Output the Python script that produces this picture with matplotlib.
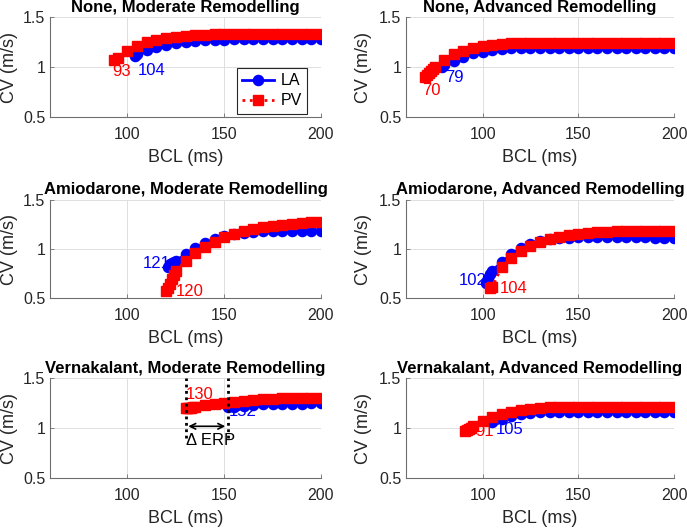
import matplotlib
matplotlib.use("Agg")
import matplotlib.pyplot as plt

plt.rcParams['font.family'] = ['Liberation Sans', 'DejaVu Sans']

# --- data (BCL in ms, CV in m/s) ---
none_mod_la_bcl = [104, 105, 110, 115, 120, 125, 130, 135, 140, 145, 150, 155, 160, 165, 170, 175, 180, 185, 190, 195, 200]
none_mod_la_cv = [1.11, 1.13, 1.17, 1.20, 1.22, 1.24, 1.25, 1.26, 1.27, 1.27, 1.275, 1.28, 1.28, 1.28, 1.28, 1.28, 1.28, 1.28, 1.28, 1.28, 1.28]
none_mod_pv_bcl = [93, 95, 100, 105, 110, 115, 120, 125, 130, 135, 140, 145, 150, 155, 160, 165, 170, 175, 180, 185, 190, 195, 200]
none_mod_pv_cv = [1.07, 1.09, 1.16, 1.21, 1.25, 1.27, 1.29, 1.305, 1.315, 1.32, 1.325, 1.33, 1.33, 1.33, 1.33, 1.33, 1.33, 1.33, 1.33, 1.33, 1.33, 1.33, 1.33]

none_adv_la_bcl = [79, 80, 85, 90, 95, 100, 105, 110, 115, 120, 125, 130, 135, 140, 145, 150, 155, 160, 165, 170, 175, 180, 185, 190, 195, 200]
none_adv_la_cv = [1.0, 1.02, 1.06, 1.10, 1.14, 1.157, 1.173, 1.185, 1.19, 1.195, 1.195, 1.195, 1.195, 1.195, 1.195, 1.195, 1.195, 1.195, 1.195, 1.195, 1.195, 1.195, 1.195, 1.195, 1.195, 1.195]
none_adv_pv_bcl = [70, 71, 72, 73, 74, 75, 80, 85, 90, 95, 100, 105, 110, 115, 120, 125, 130, 135, 140, 145, 150, 155, 160, 165, 170, 175, 180, 185, 190, 195, 200]
none_adv_pv_cv = [0.90, 0.92, 0.94, 0.96, 0.98, 1.0, 1.07, 1.13, 1.165, 1.19, 1.21, 1.225, 1.235, 1.24, 1.24, 1.24, 1.24, 1.24, 1.24, 1.24, 1.24, 1.24, 1.24, 1.24, 1.24, 1.24, 1.24, 1.24, 1.24, 1.24, 1.24]

amio_mod_la_bcl = [121, 122, 123, 124, 125, 130, 135, 140, 145, 150, 155, 160, 165, 170, 175, 180, 185, 190, 195, 200]
amio_mod_la_cv = [0.82, 0.85, 0.86, 0.87, 0.88, 0.95, 1.01, 1.065, 1.10, 1.135, 1.155, 1.165, 1.175, 1.18, 1.18, 1.185, 1.185, 1.185, 1.185, 1.18]
amio_mod_pv_bcl = [120, 121, 122, 123, 124, 125, 130, 135, 140, 145, 150, 155, 160, 165, 170, 175, 180, 185, 190, 195, 200]
amio_mod_pv_cv = [0.57, 0.60, 0.65, 0.70, 0.74, 0.78, 0.88, 0.96, 1.025, 1.075, 1.12, 1.155, 1.185, 1.21, 1.225, 1.24, 1.25, 1.26, 1.27, 1.275, 1.28]

amio_adv_la_bcl = [102, 103, 104, 105, 110, 115, 120, 125, 130, 135, 140, 145, 150, 155, 160, 165, 170, 175, 180, 185, 190, 195, 200]
amio_adv_la_cv = [0.66, 0.71, 0.75, 0.78, 0.87, 0.95, 1.01, 1.05, 1.08, 1.10, 1.11, 1.115, 1.12, 1.12, 1.12, 1.12, 1.12, 1.12, 1.12, 1.12, 1.115, 1.115, 1.11]
amio_adv_pv_bcl = [104, 105, 110, 115, 120, 125, 130, 135, 140, 145, 150, 155, 160, 165, 170, 175, 180, 185, 190, 195, 200]
amio_adv_pv_cv = [0.60, 0.61, 0.82, 0.91, 0.98, 1.03, 1.07, 1.10, 1.125, 1.14, 1.155, 1.165, 1.17, 1.175, 1.18, 1.18, 1.185, 1.185, 1.185, 1.185, 1.185]

vern_mod_la_bcl = [152, 155, 160, 165, 170, 175, 180, 185, 190, 195, 200]
vern_mod_la_cv = [1.21, 1.215, 1.225, 1.235, 1.24, 1.24, 1.245, 1.245, 1.245, 1.25, 1.25]
vern_mod_pv_bcl = [130, 131, 132, 133, 134, 135, 140, 145, 150, 155, 160, 165, 170, 175, 180, 185, 190, 195, 200]
vern_mod_pv_cv = [1.20, 1.20, 1.205, 1.205, 1.21, 1.21, 1.23, 1.245, 1.25, 1.26, 1.27, 1.28, 1.29, 1.295, 1.30, 1.30, 1.305, 1.305, 1.305]

vern_adv_la_bcl = [105, 110, 115, 120, 125, 130, 135, 140, 145, 150, 155, 160, 165, 170, 175, 180, 185, 190, 195, 200]
vern_adv_la_cv = [1.06, 1.09, 1.12, 1.14, 1.155, 1.16, 1.165, 1.165, 1.165, 1.165, 1.165, 1.165, 1.165, 1.165, 1.165, 1.165, 1.165, 1.165, 1.165, 1.165]
vern_adv_pv_bcl = [91, 92, 93, 94, 95, 100, 105, 110, 115, 120, 125, 130, 135, 140, 145, 150, 155, 160, 165, 170, 175, 180, 185, 190, 195, 200]
vern_adv_pv_cv = [0.97, 0.98, 0.99, 1.0, 1.02, 1.07, 1.11, 1.14, 1.16, 1.18, 1.195, 1.205, 1.21, 1.21, 1.21, 1.21, 1.21, 1.215, 1.215, 1.215, 1.215, 1.215, 1.215, 1.215, 1.215, 1.215]

titles = ["None, Moderate Remodelling", "None, Advanced Remodelling",
          "Amiodarone, Moderate Remodelling", "Amiodarone, Advanced Remodelling",
          "Vernakalant, Moderate Remodelling", "Vernakalant, Advanced Remodelling"]

panels = [
    (none_mod_la_bcl, none_mod_la_cv, none_mod_pv_bcl, none_mod_pv_cv),
    (none_adv_la_bcl, none_adv_la_cv, none_adv_pv_bcl, none_adv_pv_cv),
    (amio_mod_la_bcl, amio_mod_la_cv, amio_mod_pv_bcl, amio_mod_pv_cv),
    (amio_adv_la_bcl, amio_adv_la_cv, amio_adv_pv_bcl, amio_adv_pv_cv),
    (vern_mod_la_bcl, vern_mod_la_cv, vern_mod_pv_bcl, vern_mod_pv_cv),
    (vern_adv_la_bcl, vern_adv_la_cv, vern_adv_pv_bcl, vern_adv_pv_cv),
]

# where the ERP numbers sit (x, y) for LA and PV
la_label_pos = [(105.5, 0.97), (80.5, 0.90), (107.8, 0.855), (87.5, 0.685), (152.5, 1.17), (107, 0.99)]
pv_label_pos = [(92, 0.96), (68.5, 0.77), (125, 0.57), (109, 0.60), (130, 1.34), (96, 0.97)]

BLUE = '#0000ff'
RED = '#ff0000'
AXCOL = '#262626'


def make_axes(fig):
    lefts = [50 / 687, 406 / 687]
    widths = [271 / 687, 268 / 687]
    rows = [(17.3, 100.0), (200.0, 98.3), (378.3, 100.0)]
    axes = []
    for top, h in rows:
        for left, w in zip(lefts, widths):
            axes.append(fig.add_axes([left, 1 - (top + h) / 530, w, h / 530]))
    return axes


def style_axis(ax, title, col):
    ax.set_xlim(60, 200)
    ax.set_ylim(0.5, 1.5)
    ax.set_xticks([100, 150, 200])
    ax.set_yticks([0.5, 1, 1.5])
    ax.set_yticklabels(['0.5', '1', '1.5'])
    ax.grid(True, color='#dedede', lw=0.7)
    ax.set_axisbelow(True)
    for s in ['top', 'right']:
        ax.spines[s].set_visible(False)
    for s in ['left', 'bottom']:
        ax.spines[s].set_color('#6e6e6e')
        ax.spines[s].set_linewidth(0.8)
    ax.tick_params(direction='in', length=3, width=0.6, color='#6e6e6e',
                   labelsize=11.5, labelcolor=AXCOL)
    ax.tick_params(axis='x', pad=7)
    ax.tick_params(axis='y', pad=3.5)
    ax.set_xlabel('BCL (ms)', fontsize=13, color=AXCOL, labelpad=5)
    ax.set_ylabel('CV (m/s)', fontsize=13, color=AXCOL)
    ax.yaxis.set_label_coords(-0.118 if col == 0 else -0.127, 0.5)
    ax.set_title(title, fontsize=12, fontweight='bold', pad=4)


def plot_panels():
    fig = plt.figure(figsize=(6.87, 5.30), dpi=100)
    axes = make_axes(fig)
    for i, ax in enumerate(axes):
        la_x, la_y, pv_x, pv_y = panels[i]
        style_axis(ax, titles[i], i % 2)
        ax.plot(la_x, la_y, '-o', color=BLUE, lw=2, ms=7.3, label='LA', zorder=3)
        ax.plot(pv_x, pv_y, ':s', color=RED, lw=2, ms=6.6, label='PV', zorder=4)
        ax.text(*la_label_pos[i], str(la_x[0]), color=BLUE, fontsize=12,
                ha='left', va='center', zorder=1)
        ax.text(*pv_label_pos[i], str(pv_x[0]), color=RED, fontsize=12,
                ha='left', va='center', zorder=1)
        if i == 0:
            leg = ax.legend(loc='lower right', bbox_to_anchor=(0.95, 0.035), fontsize=11.5,
                            fancybox=False, framealpha=1, edgecolor='#262626',
                            handlelength=2.0, borderaxespad=0, borderpad=0.35,
                            labelspacing=0.3, handletextpad=0.4)
            leg.get_frame().set_linewidth(0.8)
        if i == 4:
            # delta ERP between PV and LA
            ax.vlines([pv_x[0], la_x[0]], 0.9, 1.5, colors='k', linestyles=(0, (1, 1.3)), lw=2, zorder=5)
            ax.annotate('', xy=(pv_x[0], 1.02), xytext=(la_x[0], 1.02),
                        arrowprops=dict(arrowstyle='<->', color='k', lw=1.2))
            ax.text(pv_x[0], 0.88, '\u0394 ERP', fontsize=12, ha='left', va='center')
    fig.savefig('out.png', dpi=100)


if __name__ == "__main__":
    plot_panels()
